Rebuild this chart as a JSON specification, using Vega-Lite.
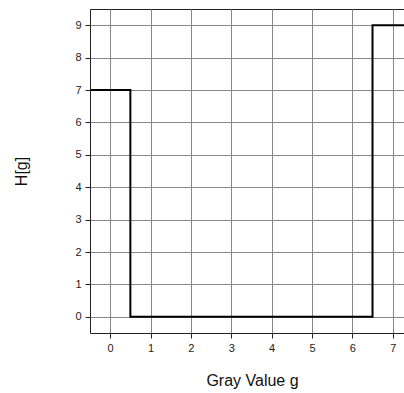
{
  "$schema": "https://vega.github.io/schema/vega-lite/v6.json",
  "width": 314,
  "height": 324,
  "autosize": "none",
  "padding": {"left": 90, "top": 9, "right": 0, "bottom": 60},
  "background": "white",
  "config": {
    "font": "Liberation Sans",
    "view": {"stroke": "#222", "strokeWidth": 1},
    "axis": {
      "gridColor": "#888",
      "gridOpacity": 1,
      "gridWidth": 1,
      "domain": false,
      "tickColor": "#222",
      "tickSize": 5,
      "labelFontSize": 11,
      "labelColor": "#222",
      "titleFontSize": 16,
      "titleFontWeight": "normal",
      "titleColor": "#111"
    }
  },
  "data": {
    "values": [
      {"edge": -0.5, "H": 7},
      {"edge": 0.5, "H": 0},
      {"edge": 1.5, "H": 0},
      {"edge": 2.5, "H": 0},
      {"edge": 3.5, "H": 0},
      {"edge": 4.5, "H": 0},
      {"edge": 5.5, "H": 0},
      {"edge": 6.5, "H": 9},
      {"edge": 7.5, "H": 9}
    ]
  },
  "mark": {"type": "line", "interpolate": "step-after", "color": "black", "strokeWidth": 2, "clip": true},
  "encoding": {
    "x": {
      "field": "edge",
      "type": "quantitative",
      "scale": {"domain": [-0.5, 7.28], "nice": false, "zero": false},
      "axis": {"values": [0, 1, 2, 3, 4, 5, 6, 7], "title": "Gray Value g", "labelPadding": 4, "titleX": 162, "titleY": 52, "titleBaseline": "alphabetic"}
    },
    "y": {
      "field": "H",
      "type": "quantitative",
      "scale": {"domain": [-0.5, 9.5], "nice": false, "zero": false},
      "axis": {"values": [0, 1, 2, 3, 4, 5, 6, 7, 8, 9], "title": "H[g]", "labelPadding": 4, "titleX": -64, "titleY": 162, "titleAngle": -90, "titleBaseline": "alphabetic"}
    }
  }
}
